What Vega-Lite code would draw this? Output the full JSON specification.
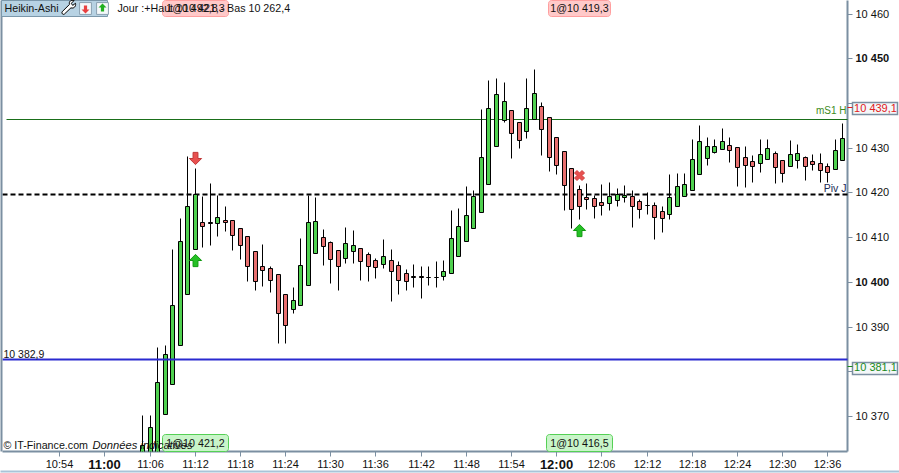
{"$schema":"https://vega.github.io/schema/vega-lite/v6.json","width":845,"height":451,"autosize":"none","padding":{"left":2.5,"right":51.5,"top":0.5,"bottom":21.5},"background":"#ffffff","config":{"view":{"stroke":null},"text":{"font":"Liberation Sans"}},
"datasets":{"candles":[
{"t":"2021-01-01T11:05:00Z","o":10360,"h":10370.2,"l":10360,"c":10363.5},
{"t":"2021-01-01T11:06:00Z","o":10360,"h":10370.2,"l":10360,"c":10367.5},
{"t":"2021-01-01T11:07:00Z","o":10360,"h":10385.4,"l":10360,"c":10377.6},
{"t":"2021-01-01T11:08:00Z","o":10370.4,"h":10385.9,"l":10370.4,"c":10383.9},
{"t":"2021-01-01T11:09:00Z","o":10377.2,"h":10407.4,"l":10377.2,"c":10394.8},
{"t":"2021-01-01T11:10:00Z","o":10385.9,"h":10414.3,"l":10385.9,"c":10409.2},
{"t":"2021-01-01T11:11:00Z","o":10397.3,"h":10428.2,"l":10397.3,"c":10417},
{"t":"2021-01-01T11:12:00Z","o":10407.4,"h":10425.5,"l":10407.4,"c":10419.7},
{"t":"2021-01-01T11:13:00Z","o":10413.4,"h":10419.2,"l":10407.8,"c":10412.5},
{"t":"2021-01-01T11:14:00Z","o":10413.3,"h":10422.1,"l":10408.3,"c":10413.1},
{"t":"2021-01-01T11:15:00Z","o":10413.2,"h":10419.4,"l":10410.3,"c":10414.5},
{"t":"2021-01-01T11:16:00Z","o":10413.8,"h":10417,"l":10411.4,"c":10413.5},
{"t":"2021-01-01T11:17:00Z","o":10413.9,"h":10413.9,"l":10407.1,"c":10410.5},
{"t":"2021-01-01T11:18:00Z","o":10412.1,"h":10412.1,"l":10405.1,"c":10408.3},
{"t":"2021-01-01T11:19:00Z","o":10410.3,"h":10410.3,"l":10400.2,"c":10403.6},
{"t":"2021-01-01T11:20:00Z","o":10406.9,"h":10406.9,"l":10398.2,"c":10400.2},
{"t":"2021-01-01T11:21:00Z","o":10403.6,"h":10408.5,"l":10399.1,"c":10402.7},
{"t":"2021-01-01T11:22:00Z","o":10403.1,"h":10403.6,"l":10397.8,"c":10400.4},
{"t":"2021-01-01T11:23:00Z","o":10401.8,"h":10401.8,"l":10386.3,"c":10393},
{"t":"2021-01-01T11:24:00Z","o":10397.3,"h":10397.3,"l":10386.3,"c":10390.4},
{"t":"2021-01-01T11:25:00Z","o":10394,"h":10398.9,"l":10393,"c":10396},
{"t":"2021-01-01T11:26:00Z","o":10394.8,"h":10409.8,"l":10394.8,"c":10403.8},
{"t":"2021-01-01T11:27:00Z","o":10399.3,"h":10419.4,"l":10399.3,"c":10413.4},
{"t":"2021-01-01T11:28:00Z","o":10406.5,"h":10419,"l":10406.5,"c":10413.6},
{"t":"2021-01-01T11:29:00Z","o":10410.1,"h":10411.8,"l":10403.8,"c":10408},
{"t":"2021-01-01T11:30:00Z","o":10409,"h":10409.2,"l":10399.8,"c":10405.1},
{"t":"2021-01-01T11:31:00Z","o":10407.1,"h":10407.1,"l":10398.2,"c":10403.6},
{"t":"2021-01-01T11:32:00Z","o":10405.4,"h":10412.3,"l":10404.2,"c":10408.7},
{"t":"2021-01-01T11:33:00Z","o":10406.9,"h":10411.6,"l":10404.2,"c":10408.3},
{"t":"2021-01-01T11:34:00Z","o":10407.6,"h":10407.6,"l":10400.4,"c":10404.7},
{"t":"2021-01-01T11:35:00Z","o":10406.3,"h":10406.7,"l":10400.2,"c":10403.6},
{"t":"2021-01-01T11:36:00Z","o":10404.9,"h":10405.4,"l":10400.9,"c":10403.3},
{"t":"2021-01-01T11:37:00Z","o":10404,"h":10409.6,"l":10403.1,"c":10405.8},
{"t":"2021-01-01T11:38:00Z","o":10404.9,"h":10407.4,"l":10395.7,"c":10402.4},
{"t":"2021-01-01T11:39:00Z","o":10403.8,"h":10404.7,"l":10397.3,"c":10400.4},
{"t":"2021-01-01T11:40:00Z","o":10402,"h":10402.9,"l":10398.2,"c":10400.2},
{"t":"2021-01-01T11:41:00Z","o":10401.3,"h":10404,"l":10398.9,"c":10401.1},
{"t":"2021-01-01T11:42:00Z","o":10401.3,"h":10403.6,"l":10396.4,"c":10401.1},
{"t":"2021-01-01T11:43:00Z","o":10401.2,"h":10403.6,"l":10399.3,"c":10401.2},
{"t":"2021-01-01T11:44:00Z","o":10401.2,"h":10404.7,"l":10398.9,"c":10401.2},
{"t":"2021-01-01T11:45:00Z","o":10401.3,"h":10404.9,"l":10400.4,"c":10402.4},
{"t":"2021-01-01T11:46:00Z","o":10402,"h":10416.1,"l":10402,"c":10409.8},
{"t":"2021-01-01T11:47:00Z","o":10405.8,"h":10416.5,"l":10405.8,"c":10412.5},
{"t":"2021-01-01T11:48:00Z","o":10409.2,"h":10421.5,"l":10409.2,"c":10415},
{"t":"2021-01-01T11:49:00Z","o":10412.1,"h":10420.6,"l":10412.1,"c":10419.2},
{"t":"2021-01-01T11:50:00Z","o":10415.6,"h":10438.7,"l":10415.6,"c":10428},
{"t":"2021-01-01T11:51:00Z","o":10421.9,"h":10445.2,"l":10421.9,"c":10438.9},
{"t":"2021-01-01T11:52:00Z","o":10430.4,"h":10445.6,"l":10430.4,"c":10442},
{"t":"2021-01-01T11:53:00Z","o":10436.2,"h":10444.7,"l":10435.8,"c":10440.5},
{"t":"2021-01-01T11:54:00Z","o":10438.4,"h":10438.4,"l":10427.7,"c":10433.3},
{"t":"2021-01-01T11:55:00Z","o":10435.8,"h":10435.8,"l":10430,"c":10431.7},
{"t":"2021-01-01T11:56:00Z","o":10433.8,"h":10445.6,"l":10432.2,"c":10438.9},
{"t":"2021-01-01T11:57:00Z","o":10436.4,"h":10447.6,"l":10436.4,"c":10442.3},
{"t":"2021-01-01T11:58:00Z","o":10439.3,"h":10440.2,"l":10428.4,"c":10434.2},
{"t":"2021-01-01T11:59:00Z","o":10436.9,"h":10436.9,"l":10424.8,"c":10428},
{"t":"2021-01-01T12:00:00Z","o":10432.4,"h":10432.4,"l":10424.1,"c":10426.2},
{"t":"2021-01-01T12:01:00Z","o":10429.3,"h":10429.3,"l":10416.1,"c":10421.7},
{"t":"2021-01-01T12:02:00Z","o":10425.5,"h":10425.5,"l":10412.1,"c":10416.3},
{"t":"2021-01-01T12:03:00Z","o":10420.8,"h":10421.7,"l":10414.1,"c":10417},
{"t":"2021-01-01T12:04:00Z","o":10419,"h":10422.1,"l":10416.3,"c":10418.5},
{"t":"2021-01-01T12:05:00Z","o":10418.8,"h":10419.4,"l":10414.3,"c":10417},
{"t":"2021-01-01T12:06:00Z","o":10417.9,"h":10421.9,"l":10415,"c":10417.2},
{"t":"2021-01-01T12:07:00Z","o":10417.6,"h":10422.4,"l":10416.1,"c":10419.2},
{"t":"2021-01-01T12:08:00Z","o":10418.3,"h":10421,"l":10417,"c":10419.7},
{"t":"2021-01-01T12:09:00Z","o":10419,"h":10421.7,"l":10417.9,"c":10419.4},
{"t":"2021-01-01T12:10:00Z","o":10419.2,"h":10420.6,"l":10412.3,"c":10417},
{"t":"2021-01-01T12:11:00Z","o":10418.1,"h":10418.5,"l":10414.3,"c":10416.3},
{"t":"2021-01-01T12:12:00Z","o":10417.2,"h":10420.1,"l":10415.2,"c":10417.2},
{"t":"2021-01-01T12:13:00Z","o":10417.2,"h":10417.9,"l":10409.6,"c":10414.5},
{"t":"2021-01-01T12:14:00Z","o":10415.9,"h":10417,"l":10411.2,"c":10414.3},
{"t":"2021-01-01T12:15:00Z","o":10415.2,"h":10424.1,"l":10414.1,"c":10419},
{"t":"2021-01-01T12:16:00Z","o":10417,"h":10424.4,"l":10417,"c":10421.5},
{"t":"2021-01-01T12:17:00Z","o":10419.2,"h":10424.4,"l":10419.2,"c":10421.9},
{"t":"2021-01-01T12:18:00Z","o":10420.6,"h":10432,"l":10420.6,"c":10427.5},
{"t":"2021-01-01T12:19:00Z","o":10424.1,"h":10435.1,"l":10424.1,"c":10431.5},
{"t":"2021-01-01T12:20:00Z","o":10427.7,"h":10432.4,"l":10426.2,"c":10430.4},
{"t":"2021-01-01T12:21:00Z","o":10429.1,"h":10432,"l":10428.8,"c":10430.4},
{"t":"2021-01-01T12:22:00Z","o":10429.7,"h":10434.4,"l":10429.7,"c":10431.5},
{"t":"2021-01-01T12:23:00Z","o":10430.6,"h":10432.4,"l":10426.8,"c":10429.5},
{"t":"2021-01-01T12:24:00Z","o":10430.2,"h":10430.2,"l":10421.5,"c":10425.7},
{"t":"2021-01-01T12:25:00Z","o":10428,"h":10430.4,"l":10421.2,"c":10426.2},
{"t":"2021-01-01T12:26:00Z","o":10427,"h":10428.4,"l":10422.4,"c":10425.9},
{"t":"2021-01-01T12:27:00Z","o":10426.6,"h":10432,"l":10424.6,"c":10428.6},
{"t":"2021-01-01T12:28:00Z","o":10427.5,"h":10432,"l":10427.5,"c":10430},
{"t":"2021-01-01T12:29:00Z","o":10428.8,"h":10429.3,"l":10422.1,"c":10425.7},
{"t":"2021-01-01T12:30:00Z","o":10427.3,"h":10427.3,"l":10422.4,"c":10424.4},
{"t":"2021-01-01T12:31:00Z","o":10425.9,"h":10431.7,"l":10425.9,"c":10428.6},
{"t":"2021-01-01T12:32:00Z","o":10427.3,"h":10430.9,"l":10425.5,"c":10428.8},
{"t":"2021-01-01T12:33:00Z","o":10428,"h":10428.2,"l":10422.8,"c":10425.9},
{"t":"2021-01-01T12:34:00Z","o":10427,"h":10428.6,"l":10425,"c":10426.4},
{"t":"2021-01-01T12:35:00Z","o":10426.6,"h":10428.8,"l":10422.4,"c":10425},
{"t":"2021-01-01T12:36:00Z","o":10425.9,"h":10426.6,"l":10422.4,"c":10424.6},
{"t":"2021-01-01T12:37:00Z","o":10425.3,"h":10432,"l":10425.3,"c":10429.5},
{"t":"2021-01-01T12:38:00Z","o":10427.3,"h":10435.5,"l":10427.3,"c":10432.2}
]},
"encoding":{
"x":{"field":"t","type":"temporal","scale":{"type":"utc","domain":[1609497985000,1609504716000],"padding":0,"nice":false,"round":true},"axis":{"title":null,"grid":false,"translate":0,"labelExpr":"utcFormat(datum.value,'%H:%M')","values":[1609498440000,1609498800000,1609499160000,1609499520000,1609499880000,1609500240000,1609500600000,1609500960000,1609501320000,1609501680000,1609502040000,1609502400000,1609502760000,1609503120000,1609503480000,1609503840000,1609504200000,1609504560000],"labelFont":"Liberation Sans","labelFontSize":{"condition":{"test":"utcminutes(datum.value)==0","value":13},"value":11},"labelFontWeight":{"condition":{"test":"utcminutes(datum.value)==0","value":"bold"},"value":"normal"},"labelColor":"#111111","labelOverlap":false,"labelFlush":false,"domainColor":"#7b8fa1","domainWidth":2,"tickColor":"#7b8fa1","tickSize":5,"labelPadding":2}},
"y":{"field":"v","type":"quantitative","scale":{"domain":[10362.17,10463.06],"nice":false,"zero":false,"round":true},"axis":{"orient":"right","title":null,"grid":false,"translate":0,"values":[10370,10380,10390,10400,10410,10420,10430,10440,10450,10460],"labelExpr":"datum.value==10440?'':slice(''+datum.value,0,2)+' '+slice(''+datum.value,2)","labelFont":"Liberation Sans","labelFontSize":11,"labelFontWeight":{"condition":{"test":"datum.value%50==0","value":"bold"},"value":"normal"},"labelColor":"#111111","labelOverlap":false,"domainColor":"#7b8fa1","domainWidth":2,"tickColor":"#7b8fa1","tickSize":5,"labelPadding":3}}
},
"layer":[
{"data":{"values":[{"t":"2021-01-01T10:46:57Z","t2":"2021-01-01T12:38:36Z","v":10436.55}]},"mark":{"type":"rule","color":"#1a6f1a","strokeWidth":1},"encoding":{"x2":{"field":"t2"}}},
{"data":{"values":[{"t":"2021-01-01T10:46:25Z","t2":"2021-01-01T12:38:36Z","v":10419.55}]},"mark":{"type":"rule","color":"#000000","strokeWidth":2,"strokeDash":[5,3]},"encoding":{"x2":{"field":"t2"}}},
{"data":{"name":"candles"},"mark":{"type":"rule","color":"#000000","strokeWidth":1,"clip":true},"encoding":{"y":{"field":"h","type":"quantitative","scale":{"domain":[10362.17,10463.06],"nice":false,"zero":false,"round":true},"axis":{"orient":"right","title":null}},"y2":{"field":"l"}}},
{"data":{"name":"candles"},"mark":{"type":"bar","size":4,"stroke":"#000000","strokeWidth":1,"clip":true},"encoding":{"y":{"field":"o","type":"quantitative","scale":{"domain":[10362.17,10463.06],"nice":false,"zero":false,"round":true},"axis":{"orient":"right","title":null}},"y2":{"field":"c"},"fill":{"condition":{"test":"datum.c>=datum.o","value":"#4fd04f"},"value":"#e86f6f"}}},
{"data":{"values":[{"t":"2021-01-01T10:46:25Z","t2":"2021-01-01T12:38:36Z","v":10382.75}]},"mark":{"type":"rule","color":"#2a2ad0","strokeWidth":2},"encoding":{"x2":{"field":"t2"}}},
{"data":{"values":[{"t":"2021-01-01T10:46:17Z","v":10463.06,"v2":10362.17}]},"mark":{"type":"rule","color":"#7b8fa1","strokeWidth":2},"encoding":{"y2":{"field":"v2"}}},
{"data":{"values":[{"t":"2021-01-01T10:46:10Z","t2":"2021-01-01T12:46:00Z","v":10357.6}]},"mark":{"type":"rule","color":"#a9c4d8","strokeWidth":2,"clip":false},"encoding":{"x2":{"field":"t2"}}},
{"data":{"values":[{"t":"2021-01-01T10:46:20Z","t2":"2021-01-01T11:00:25Z","v":10463.06,"v2":10459.5}]},"mark":{"type":"rect","fill":"#b7d2e3","stroke":"#7b97aa","strokeWidth":1},"encoding":{"x2":{"field":"t2"},"y2":{"field":"v2"}}},
{"data":{"values":[{"t":"2021-01-01T11:07:40Z","t2":"2021-01-01T11:16:26Z","v":10463.06,"v2":10459.4},{"t":"2021-01-01T11:58:55Z","t2":"2021-01-01T12:07:10Z","v":10463.06,"v2":10459.4}]},"mark":{"type":"rect","fill":"#ffc9c9","stroke":"#ff9f9f","strokeWidth":1,"cornerRadius":3},"encoding":{"x2":{"field":"t2"},"y2":{"field":"v2"}}},
{"data":{"values":[{"t":"2021-01-01T11:07:40Z","t2":"2021-01-01T11:16:26Z","v":10366,"v2":10362.17},{"t":"2021-01-01T11:58:38Z","t2":"2021-01-01T12:07:24Z","v":10366,"v2":10362.17}]},"mark":{"type":"rect","fill":"#c9f5c9","stroke":"#55d055","strokeWidth":1,"cornerRadius":3},"encoding":{"x2":{"field":"t2"},"y2":{"field":"v2"}}},
{"data":{"values":[{"t":"2021-01-01T12:39:17Z","t2":"2021-01-01T12:45:15Z","v":10440.2,"v2":10437.6},{"t":"2021-01-01T12:39:17Z","t2":"2021-01-01T12:45:15Z","v":10382.1,"v2":10379.4}]},"mark":{"type":"rect","fill":"#f4f7f9","stroke":"#7b8fa1","strokeWidth":1.5},"encoding":{"x2":{"field":"t2"},"y2":{"field":"v2"}}},
{"data":{"values":[{"t":"2021-01-01T12:38:36Z","t2":"2021-01-01T12:39:17Z","v":10439.1}]},"mark":{"type":"rule","color":"#e02020","strokeWidth":1},"encoding":{"x2":{"field":"t2"}}},
{"data":{"values":[{"t":"2021-01-01T12:38:36Z","t2":"2021-01-01T12:39:17Z","v":10381.1}]},"mark":{"type":"rule","color":"#1a8a1a","strokeWidth":1},"encoding":{"x2":{"field":"t2"}}},
{"data":{"values":[{"t":"2021-01-01T12:42:18Z","v":10439,"label":"10 439,1"}]},"mark":{"type":"text","fontSize":11,"color":"#e02020","clip":false},"encoding":{"text":{"field":"label"}}},
{"data":{"values":[{"t":"2021-01-01T12:42:18Z","v":10380.9,"label":"10 381,1"}]},"mark":{"type":"text","fontSize":11,"color":"#1a8a1a"},"encoding":{"text":{"field":"label"}}},
{"data":{"values":[{"t":"2021-01-01T12:38:30Z","v":10438.5,"label":"mS1 H"}]},"mark":{"type":"text","fontSize":10,"align":"right","color":"#3d8a1a"},"encoding":{"text":{"field":"label"}}},
{"data":{"values":[{"t":"2021-01-01T12:38:30Z","v":10421,"label":"Piv J"}]},"mark":{"type":"text","fontSize":10.5,"align":"right","color":"#1a2a55"},"encoding":{"text":{"field":"label"}}},
{"data":{"values":[{"t":"2021-01-01T10:46:33Z","v":10383.9,"label":"10 382,9"}]},"mark":{"type":"text","fontSize":10.5,"align":"left","color":"#111111"},"encoding":{"text":{"field":"label"}}},
{"data":{"values":[{"t":"2021-01-01T10:46:42Z","v":10461.3,"label":"Heikin-Ashi"},{"t":"2021-01-01T11:01:41Z","v":10461.3,"label":"Jour :+Haut 10 492,8 - Bas 10 262,4"},{"t":"2021-01-01T10:46:33Z","v":10363.6,"label":"© IT-Finance.com"}]},"mark":{"type":"text","fontSize":10.7,"align":"left","color":"#111111"},"encoding":{"text":{"field":"label"}}},
{"data":{"values":[{"t":"2021-01-01T10:58:22Z","v":10363.6,"label":"Données indicatives"}]},"mark":{"type":"text","fontSize":11.2,"align":"left","fontStyle":"italic","color":"#111111"},"encoding":{"text":{"field":"label"}}},
{"data":{"values":[{"t":"2021-01-01T11:12:02Z","v":10461.3,"label":"1@10 421,3"},{"t":"2021-01-01T12:03:00Z","v":10461.3,"label":"1@10 419,3"},{"t":"2021-01-01T11:12:02Z","v":10364,"label":"1@10 421,2"},{"t":"2021-01-01T12:03:00Z","v":10364,"label":"1@10 416,5"}]},"mark":{"type":"text","fontSize":10.7,"color":"#111111"},"encoding":{"text":{"field":"label"}}},
{"data":{"values":[{"t":"2021-01-01T10:55:11Z","v":10461.5}]},"mark":{"type":"point","filled":true,"fill":"#ffffff","stroke":"#000000","strokeWidth":1,"opacity":1,"size":196,"shape":"M-0.9,0.6 L0.15,-0.45 C0,-0.9 0.4,-1.1 0.8,-1 L0.4,-0.6 L0.6,-0.3 L1,-0.6 C1.1,-0.2 0.8,0.2 0.35,0.05 L-0.6,0.95 C-0.8,1.1 -1.05,0.8 -0.9,0.6 Z"}},
{"data":{"values":[{"t":"2021-01-01T10:57:26Z","v":10461.3},{"t":"2021-01-01T10:59:42Z","v":10461.3}]},"mark":{"type":"point","filled":true,"fill":"#f5f8fa","stroke":"#8aa0b0","strokeWidth":1,"opacity":1,"size":140,"shape":"square"}},
{"data":{"values":[{"t":"2021-01-01T10:57:26Z","v":10461.1}]},"mark":{"type":"point","filled":true,"fill":"#e84040","opacity":1,"size":64,"shape":"M-0.4,-1 L0.4,-1 L0.4,0 L1,0 L0,1 L-1,0 L-0.4,0 Z"}},
{"data":{"values":[{"t":"2021-01-01T10:59:42Z","v":10461.5}]},"mark":{"type":"point","filled":true,"fill":"#22b022","opacity":1,"size":64,"shape":"M-0.4,1 L0.4,1 L0.4,0 L1,0 L0,-1 L-1,0 L-0.4,0 Z"}},
{"data":{"values":[{"t":"2021-01-01T11:12:00Z","v":10427.8}]},"mark":{"type":"point","filled":true,"fill":"#e8504f","stroke":"#c03838","strokeWidth":1,"opacity":1,"size":150,"shape":"M-0.4,-1 L0.4,-1 L0.4,0 L1,0 L0,1 L-1,0 L-0.4,0 Z"}},
{"data":{"values":[{"t":"2021-01-01T11:12:00Z","v":10404.8},{"t":"2021-01-01T12:03:00Z","v":10411.7}]},"mark":{"type":"point","filled":true,"fill":"#25c025","stroke":"#109a10","strokeWidth":1,"opacity":1,"size":150,"shape":"M-0.4,1 L0.4,1 L0.4,0 L1,0 L0,-1 L-1,0 L-0.4,0 Z"}},
{"data":{"values":[{"t":"2021-01-01T12:03:00Z","v":10423.9}]},"mark":{"type":"point","filled":true,"fill":"#e8504f","stroke":"#d04040","strokeWidth":1,"opacity":1,"size":100,"shape":"M-0.5,-1 L0,-0.5 L0.5,-1 L1,-0.5 L0.5,0 L1,0.5 L0.5,1 L0,0.5 L-0.5,1 L-1,0.5 L-0.5,0 L-1,-0.5 Z"}}
]}
